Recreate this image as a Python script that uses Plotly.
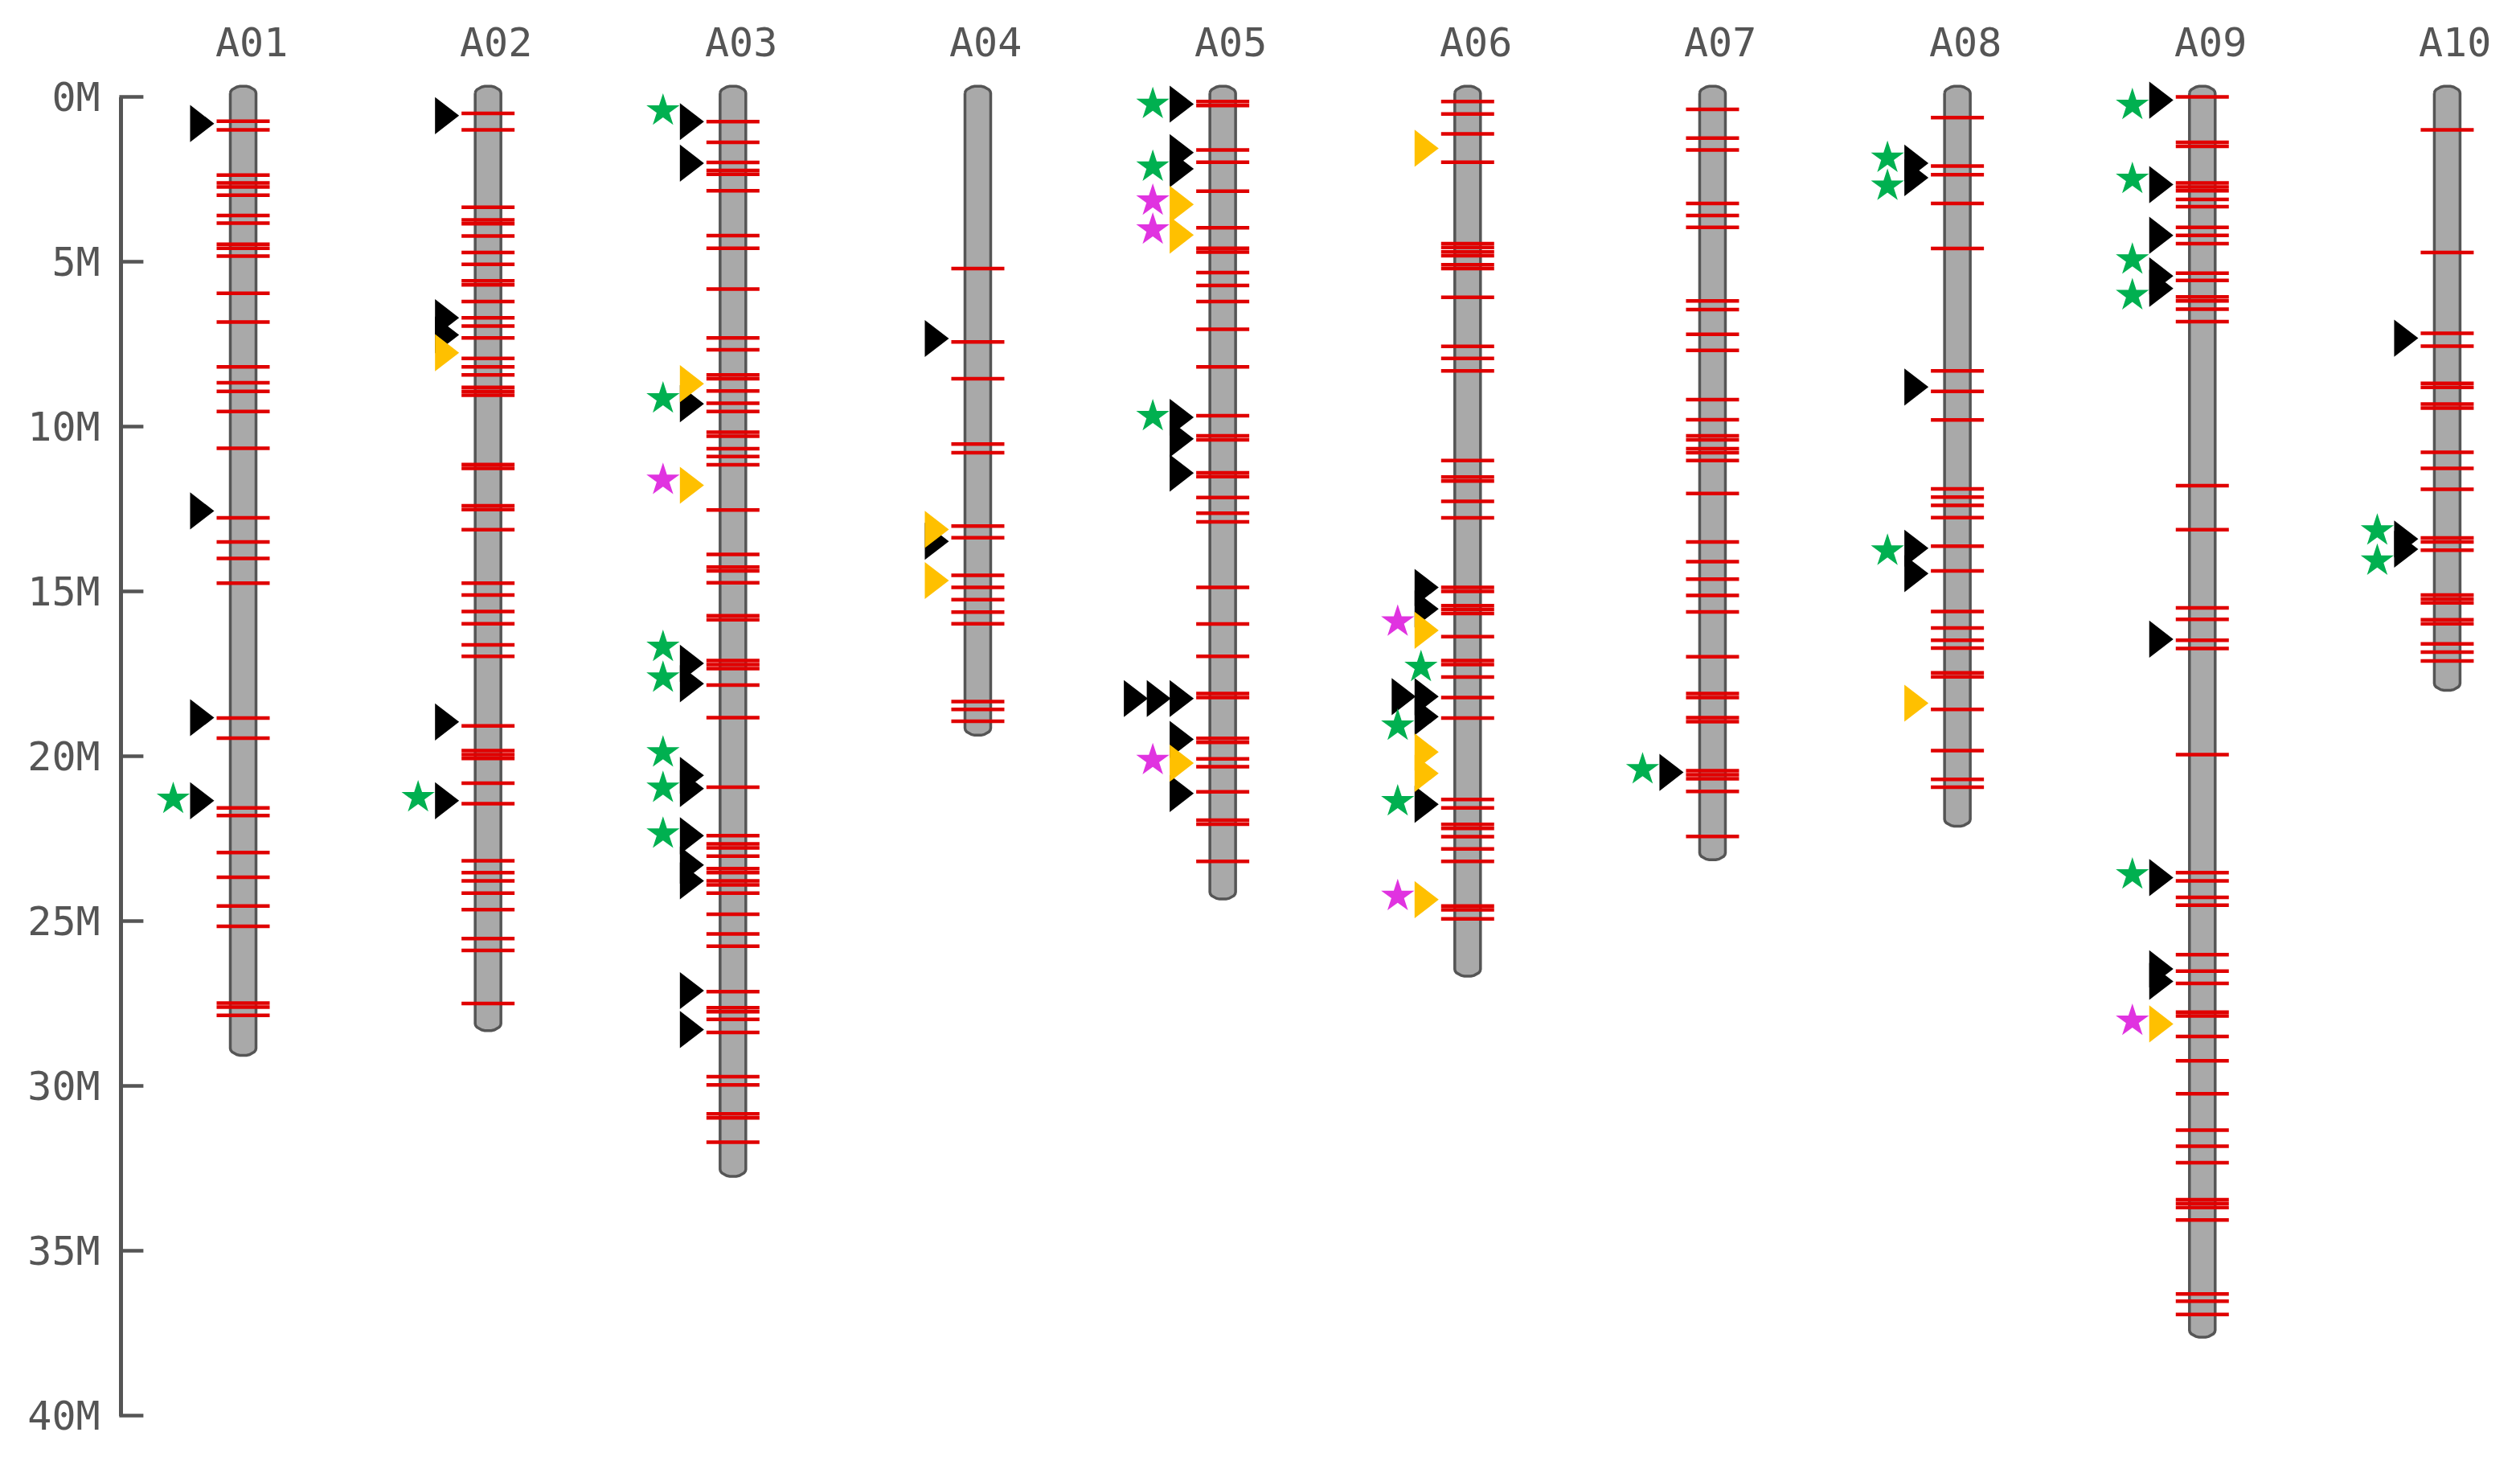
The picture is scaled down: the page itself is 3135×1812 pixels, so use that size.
import math
import plotly.graph_objects as go

# ---------------- data (positions in Mb) ----------------
CHROMS = ["A01", "A02", "A03", "A04", "A05", "A06", "A07", "A08", "A09", "A10"]
CHROM_LEN = [28.75, 28.0, 32.42, 19.04, 24.01, 26.35, 22.82, 21.8, 37.3, 17.68]

A01_GENES = [0.74, 1.0, 2.37, 2.61, 2.73, 2.98, 3.6, 3.83, 4.47, 4.59, 4.83, 5.96, 6.83,
             8.19, 8.67, 8.93, 9.54, 10.66, 12.77, 13.5, 14.0, 14.75, 18.84, 19.45, 21.57,
             21.8, 22.92, 23.67, 24.54, 25.16, 27.49, 27.61, 27.86]
A02_GENES = [0.5, 1.0, 3.35, 3.73, 3.85, 4.22, 4.72, 5.08, 5.58, 5.7, 6.21, 6.7, 6.95, 7.31,
             7.93, 8.19, 8.43, 8.81, 8.93, 9.05, 11.15, 11.27, 12.4, 12.52, 13.13, 14.75,
             15.11, 15.61, 15.98, 16.62, 16.97, 19.08, 19.83, 19.95, 20.07, 20.82, 21.44,
             23.17, 23.53, 23.78, 24.15, 24.65, 25.53, 25.89, 27.5]
A03_GENES = [0.75, 1.38, 1.99, 2.23, 2.35, 2.85, 4.21, 4.59, 5.83, 7.31, 7.67, 8.43, 8.55,
             8.92, 9.29, 9.54, 10.17, 10.29, 10.67, 10.91, 11.16, 12.53, 13.88, 14.26, 14.38,
             14.74, 15.74, 15.86, 17.1, 17.22, 17.34, 17.84, 18.83, 20.94, 22.41, 22.66,
             22.78, 23.03, 23.41, 23.53, 23.78, 23.9, 24.15, 24.79, 25.39, 25.76, 27.14,
             27.63, 27.75, 27.98, 28.38, 29.72, 29.97, 30.85, 30.97, 31.71]
A04_GENES = [5.21, 7.43, 8.55, 10.53, 10.79, 13.02, 13.37, 14.51, 14.88, 15.25, 15.63, 15.98,
             18.34, 18.58, 18.94]
A05_GENES = [0.14, 0.26, 1.61, 1.98, 2.86, 3.97, 4.59, 4.71, 5.33, 5.72, 6.21, 7.05, 8.19,
             9.67, 10.28, 10.4, 11.4, 11.52, 12.15, 12.63, 12.89, 14.88, 15.99, 16.97, 18.1,
             18.22, 19.46, 19.58, 20.08, 20.32, 21.08, 21.94, 22.06, 23.19]
A06_GENES = [0.14, 0.52, 1.12, 1.98, 4.45, 4.57, 4.7, 4.82, 5.09, 5.21, 6.08, 7.57, 7.93,
             8.31, 11.03, 11.53, 11.65, 12.27, 12.77, 14.88, 15.0, 15.43, 15.55, 15.67, 16.37,
             17.1, 17.22, 17.6, 18.22, 18.84, 21.31, 21.57, 22.07, 22.19, 22.44, 22.81, 23.19,
             24.54, 24.66, 24.93]
A07_GENES = [0.38, 1.25, 1.61, 3.23, 3.6, 3.96, 6.19, 6.45, 7.2, 7.69, 9.18, 9.79, 10.28,
             10.4, 10.67, 10.79, 11.03, 12.03, 13.5, 14.1, 14.63, 15.12, 15.62, 16.98, 18.1,
             18.22, 18.83, 18.95, 20.44, 20.56, 20.68, 21.07, 22.43]
A08_GENES = [0.63, 2.1, 2.36, 3.23, 4.6, 8.31, 8.93, 9.8, 11.89, 12.14, 12.39, 12.76, 13.63,
             14.38, 15.61, 16.11, 16.48, 16.72, 17.47, 17.59, 18.58, 19.83, 20.7, 20.94]
A09_GENES = [0.0, 1.38, 1.5, 2.61, 2.73, 2.85, 3.11, 3.33, 3.96, 4.2, 4.45, 5.35, 5.57, 6.07,
             6.19, 6.44, 6.82, 11.79, 13.13, 15.5, 15.85, 16.48, 16.73, 19.95, 23.53, 23.78,
             24.28, 24.52, 26.02, 26.52, 26.89, 27.76, 27.88, 28.5, 29.24, 30.24, 31.34, 31.83,
             32.33, 33.45, 33.57, 33.69, 34.07, 36.31, 36.53, 36.93]
A10_GENES = [1.0, 4.72, 7.17, 7.56, 8.69, 8.81, 9.32, 9.44, 10.78, 11.27, 11.9, 13.38, 13.5,
             13.75, 15.11, 15.23, 15.35, 15.86, 15.98, 16.59, 16.84, 17.11]

GENES = [A01_GENES, A02_GENES, A03_GENES, A04_GENES, A05_GENES,
         A06_GENES, A07_GENES, A08_GENES, A09_GENES, A10_GENES]

BLACK_TRI = [("A01", 0.81), ("A01", 12.56), ("A01", 18.83), ("A01", 21.35),
             ("A02", 0.57), ("A02", 6.7), ("A02", 7.22), ("A02", 18.96), ("A02", 21.35),
             ("A03", 0.75), ("A03", 2.01), ("A03", 9.31), ("A03", 17.18), ("A03", 17.8),
             ("A03", 20.58), ("A03", 20.98), ("A03", 22.41), ("A03", 23.3), ("A03", 23.78),
             ("A03", 27.11), ("A03", 28.29),
             ("A04", 7.33), ("A04", 13.48),
             ("A05", 0.22), ("A05", 1.69), ("A05", 2.18), ("A05", 9.72), ("A05", 10.37),
             ("A05", 11.41), ("A05", 18.25), ("A05", 18.25), ("A05", 18.25), ("A05", 19.49),
             ("A05", 21.13),
             ("A06", 14.88), ("A06", 15.53), ("A06", 18.19), ("A06", 18.19), ("A06", 18.8),
             ("A06", 21.46),
             ("A07", 20.49),
             ("A08", 2.01), ("A08", 2.45), ("A08", 8.8), ("A08", 13.69), ("A08", 14.46),
             ("A09", 0.1), ("A09", 2.66), ("A09", 4.2), ("A09", 5.43), ("A09", 5.81),
             ("A09", 16.45), ("A09", 23.68), ("A09", 26.45), ("A09", 26.83),
             ("A10", 7.32), ("A10", 13.41), ("A10", 13.72)]
ORANGE_TRI = [("A02", 7.76), ("A03", 8.7), ("A03", 11.78), ("A04", 13.12), ("A04", 14.67),
              ("A05", 3.26), ("A05", 4.19), ("A05", 20.21),
              ("A06", 1.56), ("A06", 16.18), ("A06", 19.87), ("A06", 20.52), ("A06", 24.35),
              ("A08", 18.39), ("A09", 28.12)]
GREEN_STAR = [("A01", 21.3), ("A02", 21.25),
              ("A03", 0.42), ("A03", 9.15), ("A03", 16.69), ("A03", 17.62), ("A03", 19.89),
              ("A03", 20.96), ("A03", 22.35),
              ("A05", 0.22), ("A05", 2.12), ("A05", 9.69),
              ("A06", 17.3), ("A06", 19.08), ("A06", 21.37),
              ("A07", 20.4),
              ("A08", 1.85), ("A08", 2.7), ("A08", 13.77),
              ("A09", 0.25), ("A09", 2.49), ("A09", 4.94), ("A09", 6.02), ("A09", 23.59),
              ("A10", 13.16), ("A10", 14.07)]
MAGENTA_STAR = [("A03", 11.62), ("A05", 3.15), ("A05", 4.03), ("A05", 20.12),
                ("A06", 15.92), ("A06", 24.24), ("A09", 28.03)]

Y_TICKS = [0, 5, 10, 15, 20, 25, 30, 35, 40]
Y_TICK_TEXT = ["0M", "5M", "10M", "15M", "20M", "25M", "30M", "35M", "40M"]

# ---------------- geometry / styling ----------------
W, H = 3135, 1812
X0_PX, DX_PX = 302.5, 304.66     # pixel of first chromosome, pixels per chromosome step
Y0_PX, DY_PX = 120.5, 41.0       # pixel of 0 Mb, pixels per Mb
AXIS_PX = 150.4                  # pixel column of the scale bar
FONT = "DejaVu Sans Mono"
GREY_TXT = "#555555"


def px_x(p):
    return p / DX_PX


def px_y(p):
    return p / DY_PX


cidx = {c: i for i, c in enumerate(CHROMS)}

fig = go.Figure()

# chromosome bodies (capsules)
HALF_W = px_x(16)
CAP = px_y(9)
EXT = px_y(13.5)
bx, by = [], []
for i, L in enumerate(CHROM_LEN):
    top = -EXT + CAP
    bot = L + EXT - CAP
    pts = []
    for k in range(0, 13):
        t = math.pi + math.pi * k / 12
        pts.append((i + HALF_W * math.cos(t), top + CAP * math.sin(t)))
    for k in range(0, 13):
        t = math.pi * k / 12
        pts.append((i + HALF_W * math.cos(t), bot + CAP * math.sin(t)))
    pts.append(pts[0])
    for x, y in pts:
        bx.append(x)
        by.append(y)
    bx.append(None)
    by.append(None)
fig.add_trace(go.Scatter(x=bx, y=by, mode="lines", fill="toself", fillcolor="#a9a9a9",
                         line=dict(color="#555555", width=3.5), hoverinfo="skip",
                         showlegend=False))

# gene bands
BAND_HW = px_x(33)
gx, gy = [], []
for i, genes in enumerate(GENES):
    for g in genes:
        gx += [i - BAND_HW, i + BAND_HW, None]
        gy += [g, g, None]
fig.add_trace(go.Scatter(x=gx, y=gy, mode="lines", line=dict(color="#e00000", width=4.5),
                         hoverinfo="skip", showlegend=False))

# scale-bar ticks (pointing right from the axis line)
tx, ty = [], []
ax_x = px_x(AXIS_PX - X0_PX)
for v in Y_TICKS:
    tx += [ax_x - px_x(2), ax_x + px_x(28), None]
    ty += [v, v, None]
fig.add_trace(go.Scatter(x=tx, y=ty, mode="lines", line=dict(color=GREY_TXT, width=4.5),
                         hoverinfo="skip", showlegend=False))

# lane layout for markers
tri_all = [(c, p, "black") for c, p in BLACK_TRI] + [(c, p, "orange") for c, p in ORANGE_TRI]
tri_lanes = []
placed = {}
for c, p, kind in tri_all:
    lst = placed.setdefault(c, [])
    lane = sum(1 for q, _ in lst if abs(q - p) < 0.1)
    lst.append((p, lane))
    tri_lanes.append((c, p, kind, lane))


def star_lane(c, p):
    near = [ln for q, ln in placed.get(c, []) if abs(q - p) < 0.75]
    return (max(near) + 1) if near else 0


def tri_trace(kind, color):
    xs, ys = [], []
    for c, p, k, lane in tri_lanes:
        if k == kind:
            xs.append(cidx[c] + px_x(-56 - 28.5 * lane))
            ys.append(p)
    return go.Scatter(x=xs, y=ys, mode="markers", cliponaxis=False,
                      marker=dict(symbol="triangle-right", size=40, color=color,
                                  line=dict(width=0)),
                      hoverinfo="skip", showlegend=False)


def star_trace(data, color):
    xs, ys = [], []
    for c, p in data:
        lane = star_lane(c, p)
        xs.append(cidx[c] + px_x(-58 - 29 * lane))
        ys.append(p)
    return go.Scatter(x=xs, y=ys, mode="markers", cliponaxis=False,
                      marker=dict(symbol="star", size=31, color=color, line=dict(width=0)),
                      hoverinfo="skip", showlegend=False)


fig.add_trace(tri_trace("black", "#000000"))
fig.add_trace(tri_trace("orange", "#ffc000"))
fig.add_trace(star_trace(GREEN_STAR, "#00b050"))
fig.add_trace(star_trace(MAGENTA_STAR, "#e033e0"))

# invisible trace carrying the display axis (line + labels)
fig.add_trace(go.Scatter(x=[0], y=[0], yaxis="y2", mode="markers",
                         marker=dict(opacity=0), hoverinfo="skip", showlegend=False))

annotations = []
for i, name in enumerate(CHROMS):
    annotations.append(dict(x=i + px_x(10), y=1 - 53 / H, xref="x", yref="paper",
                            text=name, showarrow=False, xanchor="center", yanchor="middle",
                            font=dict(family=FONT, size=50, color=GREY_TXT)))

fig.update_layout(
    template="none",
    width=W, height=H, autosize=False,
    margin=dict(l=0, r=0, t=0, b=0, pad=0),
    paper_bgcolor="white", plot_bgcolor="rgba(0,0,0,0)",
    showlegend=False,
    xaxis=dict(range=[-X0_PX / DX_PX, (W - X0_PX) / DX_PX], visible=False,
               domain=[0, 1], fixedrange=True, automargin=False),
    yaxis=dict(range=[(H - Y0_PX) / DY_PX, -Y0_PX / DY_PX], visible=False,
               domain=[0, 1], fixedrange=True, automargin=False),
    yaxis2=dict(anchor="free", position=AXIS_PX / W, side="left",
                domain=[1 - (Y0_PX + 40 * DY_PX) / H, 1 - Y0_PX / H],
                range=[40, 0], tickmode="array", tickvals=Y_TICKS, ticktext=Y_TICK_TEXT,
                ticks="", showline=True, linecolor=GREY_TXT, linewidth=4.5,
                automargin=False, showgrid=False, zeroline=False, ticklabelstandoff=14,
                tickfont=dict(family=FONT, size=50, color=GREY_TXT), fixedrange=True),
    annotations=annotations,
)

fig.write_html("out.html")
